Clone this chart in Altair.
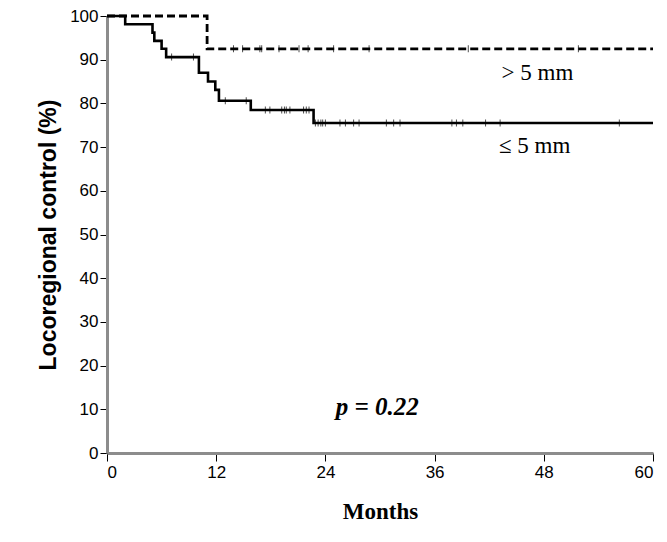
import altair as alt
import pandas as pd

# <= 5 mm group (solid): step times and survival after each step
le5_times = [0, 2.0, 5.0, 5.2, 6.0, 6.5, 10.1, 11.1, 11.9, 12.3, 15.8, 22.7, 60]
le5_surv = [100, 98.1, 96.2, 94.3, 92.5, 90.6, 87.0, 85.0, 83.1, 80.6, 78.5, 75.5, 75.5]
le5_censor = [7.1, 9.5, 13.0, 15.3, 17.4, 17.9, 19.2, 19.5, 19.7, 20.1, 21.6, 21.9, 22.2,
              22.9, 23.2, 23.5, 23.7, 24.0, 25.6, 26.2, 27.1, 27.7, 30.7, 31.5, 32.2,
              37.9, 38.4, 39.1, 41.6, 43.2, 56.3]

# > 5 mm group (dashed)
gt5_times = [0, 11.0, 60]
gt5_surv = [100, 92.5, 92.5]
gt5_censor = [13.9, 14.9, 16.8, 17.0, 18.9, 21.1, 22.1, 24.9, 28.8, 39.7, 51.8]

x_ticks = [0, 12, 24, 36, 48, 60]
y_ticks = [0, 10, 20, 30, 40, 50, 60, 70, 80, 90, 100]

labels_text = ["> 5 mm", "\u2264 5 mm"]
labels_x = [47.3, 47.0]
labels_y = [86.9, 70.2]
p_text = ["p = 0.22"]
p_x = [29.7]
p_y = [10.5]


def step_value(times, surv, t):
    v = surv[0]
    for tt, ss in zip(times, surv):
        if tt <= t:
            v = ss
    return v


le5 = pd.DataFrame({"t": le5_times, "s": le5_surv})
gt5 = pd.DataFrame({"t": gt5_times, "s": gt5_surv})
le5_c = pd.DataFrame({"t": le5_censor, "s": [step_value(le5_times, le5_surv, t) for t in le5_censor]})
gt5_c = pd.DataFrame({"t": gt5_censor, "s": [step_value(gt5_times, gt5_surv, t) for t in gt5_censor]})
lab = pd.DataFrame({"t": labels_x, "s": labels_y, "txt": labels_text})
pdf = pd.DataFrame({"t": p_x, "s": p_y, "txt": p_text})

xs = alt.Scale(domain=[0, 60], nice=False, zero=False)
ys = alt.Scale(domain=[0, 100], nice=False)

xenc = alt.X("t:Q", scale=xs, axis=alt.Axis(
    values=x_ticks, title="Months", grid=False,
    titleFont="Liberation Serif", titleFontSize=23, titleFontWeight="bold",
    titlePadding=20, titleColor="black",
    labelFont="Liberation Sans", labelFontSize=17, labelColor="black",
    labelPadding=3, tickSize=8, tickColor="black", tickWidth=1,
    domainColor="#8c8c8c", domainWidth=3))
yenc = alt.Y("s:Q", scale=ys, axis=alt.Axis(
    values=y_ticks, title="Locoregional control (%)", grid=False,
    titleFont="Liberation Sans", titleFontSize=23, titleFontWeight="bold",
    titlePadding=9, titleColor="black",
    labelFont="Liberation Sans", labelFontSize=17, labelColor="black",
    labelPadding=2, tickSize=7, tickColor="black", tickWidth=1,
    domainColor="#8c8c8c", domainWidth=3))

line_le5 = alt.Chart(le5).mark_line(interpolate="step-after", color="black", strokeWidth=2.6).encode(x=xenc, y=yenc)
line_gt5 = alt.Chart(gt5).mark_line(interpolate="step-after", color="black", strokeWidth=2.8,
                                     strokeDash=[8, 4]).encode(x="t:Q", y="s:Q")
tick_le5 = alt.Chart(le5_c).mark_tick(orient="vertical", size=7, thickness=1, color="black").encode(x="t:Q", y="s:Q")
tick_gt5 = alt.Chart(gt5_c).mark_tick(orient="vertical", size=7, thickness=1, color="black").encode(x="t:Q", y="s:Q")
text_lab = alt.Chart(lab).mark_text(font="Liberation Serif", fontSize=23, color="black",
                                    align="center", baseline="middle").encode(x="t:Q", y="s:Q", text="txt:N")
text_p = alt.Chart(pdf).mark_text(font="Liberation Serif", fontSize=25, fontWeight="bold",
                                  fontStyle="italic", color="black",
                                  align="center", baseline="middle").encode(x="t:Q", y="s:Q", text="txt:N")

chart = alt.layer(line_le5, line_gt5, tick_le5, tick_gt5, text_lab, text_p).properties(
    width=546, height=437,
    autosize=alt.AutoSizeParams(type="none"),
    padding={"left": 99, "top": 8, "right": 6, "bottom": 80},
    background="white",
).configure_view(stroke=None)

chart.save("out.html", embed_options={"renderer": "svg", "actions": False})
